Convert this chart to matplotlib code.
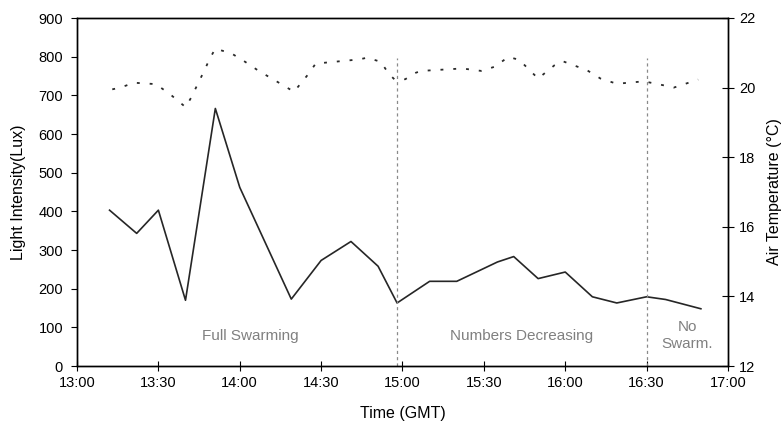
import matplotlib
matplotlib.use('Agg')
import matplotlib.pyplot as plt

plt.rcParams['font.family'] = ['Liberation Sans', 'DejaVu Sans']

# light intensity (solid line)
light_times = ['13:12', '13:22', '13:30', '13:40', '13:51', '14:00', '14:19', '14:30',
               '14:41', '14:51', '14:58', '15:10', '15:20', '15:35', '15:41', '15:50',
               '16:00', '16:10', '16:19', '16:30', '16:37', '16:50']
light_lux = [403, 343, 403, 170, 666, 462, 173, 273, 322, 258, 163, 219, 219, 269, 283,
             226, 243, 179, 163, 179, 172, 148]

# air temperature (dotted line)
temp_times = ['13:13', '13:16', '13:21', '13:29', '13:34', '13:40', '13:42', '13:47',
              '13:49', '13:51', '13:57', '14:02', '14:07', '14:14', '14:20', '14:25',
              '14:28', '14:44', '14:47', '14:52', '14:55', '14:57', '15:01', '15:05',
              '15:07', '15:22', '15:29', '15:34', '15:39', '15:43', '15:50', '15:56',
              '15:59', '16:08', '16:13', '16:19', '16:29', '16:36', '16:40', '16:49']
temp_c = [19.95, 20.0, 20.14, 20.1, 19.83, 19.44, 19.7, 20.5, 20.84, 21.12, 20.98, 20.74,
          20.48, 20.16, 19.88, 20.36, 20.69, 20.81, 20.86, 20.74, 20.39, 20.24, 20.24,
          20.43, 20.48, 20.55, 20.48, 20.6, 20.88, 20.8, 20.26, 20.64, 20.76, 20.5,
          20.26, 20.11, 20.18, 20.07, 20.0, 20.23]

phase_bounds = ['14:58', '16:30']
phase_labels = ['Full Swarming', 'Numbers Decreasing', 'No\nSwarm.']
phase_label_times = ['14:04', '15:44', '16:45']

tick_times = ['13:00', '13:30', '14:00', '14:30', '15:00', '15:30', '16:00', '16:30', '17:00']
tick_labels = ['13:00', '13:30', '14:00', '14:30', '15:00', '15:30', '16:00', '16:30', '17:00']


def to_min(s):
    h, m = s.split(':')
    return (int(h) - 13) * 60 + int(m)


fig = plt.figure(figsize=(7.82, 4.24), dpi=100)
ax = fig.add_axes([77 / 782, 1 - 366 / 424, 651 / 782, 348 / 424])
ax2 = ax.twinx()

ax.plot([to_min(t) for t in light_times], light_lux, color='#262626', lw=1.2)
ax2.plot([to_min(t) for t in temp_times], temp_c, color='#2a2a2a', lw=1.3,
         linestyle=(0, (1.6, 5.5)))

for b in phase_bounds:
    ax.vlines(to_min(b), 0, 796, colors='#8a8a8a', linestyles=(0, (2.5, 2.5)), lw=0.9)

for lab, t in zip(phase_labels, phase_label_times):
    ax.text(to_min(t), 78, lab, ha='center', va='center', color='#808080', fontsize=11,
            linespacing=1.25)

ax.set_xlim(0, 240)
ax.set_ylim(0, 900)
ax2.set_ylim(12, 22)
ax.set_xticks([to_min(t) for t in tick_times])
ax.set_xticklabels(tick_labels)
ax.set_yticks(range(0, 901, 100))
ax2.set_yticks(range(12, 23, 2))

ax.tick_params(axis='x', direction='inout', length=7, labelsize=10.5, pad=4)
ax.tick_params(axis='y', direction='out', length=4, labelsize=10.5, pad=6)
ax2.tick_params(axis='y', direction='inout', length=8, labelsize=10.5, pad=4)

for a in (ax, ax2):
    for sp in a.spines.values():
        sp.set_color('black')
        sp.set_linewidth(1.0)

ax.set_xlabel('Time (GMT)', fontsize=11.5, labelpad=11)
ax.set_ylabel('Light Intensity(Lux)', fontsize=11.5, labelpad=9)
ax2.set_ylabel('Air Temperature (\u00b0C)', fontsize=11.5, labelpad=8)

fig.savefig('out.png', dpi=100, facecolor='white')
